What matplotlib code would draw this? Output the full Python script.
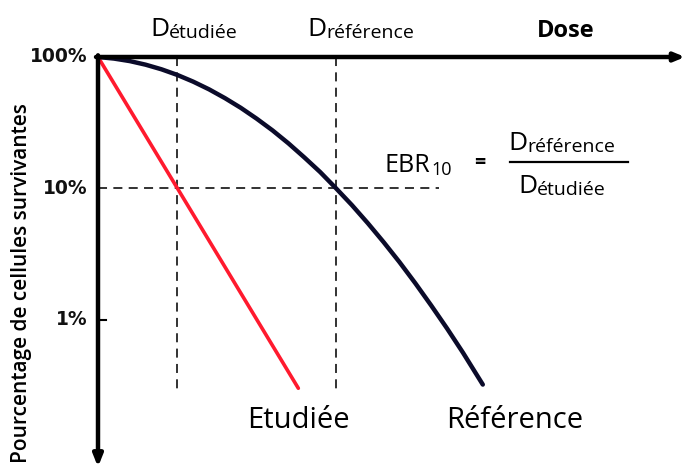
import matplotlib
matplotlib.use("Agg")
import matplotlib.pyplot as plt

# ---- data ----
dose_ref = [0.0, 0.4, 0.8, 1.2, 1.6, 2.0, 2.4, 2.8, 3.2, 3.6, 4.0, 4.4, 4.8, 5.2, 5.6,
            6.0, 6.4, 6.8, 7.2, 7.6, 8.0, 8.4, 8.8, 9.2, 9.7]
surv_ref = [100, 97.3, 93.1, 87.4, 80.6, 73.0, 64.9, 56.7, 48.6, 41.0, 33.9, 27.6, 22.0,
            17.2, 13.3, 10.0, 7.45, 5.43, 3.89, 2.74, 1.89, 1.28, 0.855, 0.56, 0.32]
dose_etu = [0.0, 5.05]
surv_etu = [100, 0.30]
d_etudiee = 2.0
d_reference = 6.0
level10 = 10.0
ytick_vals = [100, 10, 1]
ytick_labels = ["100%", "10%", "1%"]

FONT = "Open Sans"

fig = plt.figure(figsize=(6.88, 4.69), dpi=100)
ax = fig.add_axes([0, 0, 1, 1])
ax.set_yscale("log")
# pixel mapping: x origin at px 98, 39.67 px per dose unit; 100% at py 57, 131.3 px / decade
ax.set_xlim(-98 / 39.67, (688 - 98) / 39.67)
ax.set_ylim(10 ** (2 - 412 / 131.3), 10 ** (2 + 57 / 131.3))
ax.axis("off")

# dashed guides
dash = dict(color="#222222", lw=1.3, linestyle=(0, (5, 3.5)), zorder=2)
ybot = 10 ** (2 - 332 / 131.3)
ax.plot([d_etudiee, d_etudiee], [100, ybot], **dash)
ax.plot([d_reference, d_reference], [100, ybot], **dash)
ax.plot([0, 8.6], [level10, level10], **dash)

# curves
ax.plot(dose_etu, surv_etu, color="#ff1a2e", lw=2.6, solid_capstyle="round", zorder=3)
ax.plot(dose_ref, surv_ref, color="#0b0b2a", lw=3.2, solid_capstyle="round",
        solid_joinstyle="round", zorder=3)

# axes arrows
xend = (685 - 98) / 39.67
ax.annotate("", xy=(xend, 100), xytext=(-0.05, 100),
            arrowprops=dict(arrowstyle="-|>,head_length=0.6,head_width=0.25", lw=3.2,
                            color="black", shrinkA=0, shrinkB=0), zorder=4)
yend = 10 ** (2 - 410 / 131.3)
ax.annotate("", xy=(0, yend), xytext=(0, 103),
            arrowprops=dict(arrowstyle="-|>,head_length=0.7,head_width=0.28", lw=3.2,
                            color="black", shrinkA=0, shrinkB=0), zorder=4)
# small tick at 1%
ax.plot([0, 0.2], [1, 1], color="black", lw=1.5, zorder=4)

# tick labels
for v, lab in zip(ytick_vals, ytick_labels):
    ax.text(-0.27, v, lab, ha="right", va="center", fontsize=13.5,
            fontweight="bold", family="DejaVu Sans", color="#111111")

# y label
ax.text(-1.92, 10 ** (2 - (283 - 57) / 131.3), "Pourcentage de cellules survivantes",
        rotation=90, ha="center", va="center", fontsize=15, fontweight="semibold",
        family=FONT)

# Dose label
ax.text((566 - 98) / 39.67, 10 ** (2 + 26 / 131.3), "Dose", ha="center", va="center",
        fontsize=17, fontweight="bold", family=FONT)


def dlabel(x, y, sub, big=19, small=14, ha="left"):
    t = ax.text(x, y, "D", ha=ha, va="baseline", fontsize=big, family=FONT)
    ax.annotate(sub, xy=(1, 0), xycoords=t, xytext=(0, 2.8), textcoords="offset points",
                ha="left", va="baseline", fontsize=small, family=FONT)
    return t


ytop = 10 ** (2 + (57 - 36) / 131.3)
dlabel((150 - 98) / 39.67, ytop, "étudiée")
dlabel((307 - 98) / 39.67, ytop, "référence")

# EBR formula
t = ax.text((384 - 98) / 39.67, 10 ** (2 - (172 - 57) / 131.3), "EBR", ha="left",
            va="baseline", fontsize=18, family=FONT)
ax.annotate("10", xy=(1, 0), xycoords=t, xytext=(1, 2.5), textcoords="offset points",
            ha="left", va="baseline", fontsize=13, family=FONT)
ax.text((480 - 98) / 39.67, 10 ** (2 - (163 - 57) / 131.3), "=", ha="center", va="center",
        fontsize=14, fontweight="bold", family=FONT)
ax.plot([(510 - 98) / 39.67, (628 - 98) / 39.67],
        [10 ** (2 - (162 - 57) / 131.3)] * 2, color="black", lw=1.6)
dlabel((508 - 98) / 39.67, 10 ** (2 - (150 - 57) / 131.3), "référence")
dlabel((518 - 98) / 39.67, 10 ** (2 - (193 - 57) / 131.3), "étudiée")

# curve names
ax.text((247 - 98) / 39.67, 10 ** (2 - (428 - 57) / 131.3), "Etudiée", ha="left",
        va="baseline", fontsize=21, family=FONT)
ax.text((446 - 98) / 39.67, 10 ** (2 - (428 - 57) / 131.3), "Référence", ha="left",
        va="baseline", fontsize=21, family=FONT)

fig.savefig("out.png", dpi=100)
